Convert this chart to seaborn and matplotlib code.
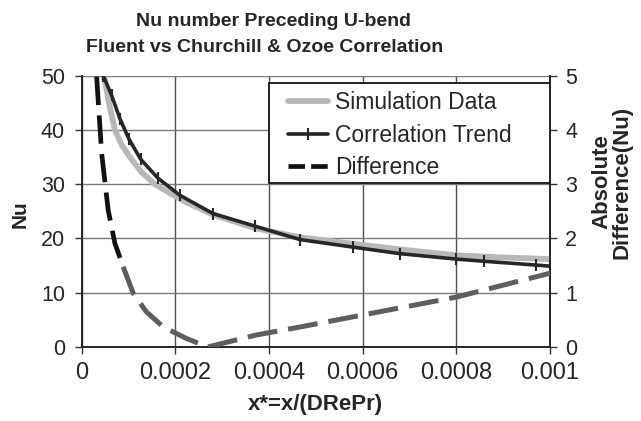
import matplotlib
matplotlib.use("Agg")
import matplotlib.pyplot as plt
import seaborn as sns
import pandas as pd
from matplotlib.lines import Line2D
from matplotlib.patches import Rectangle

sns.set_theme(style="white")
plt.rcParams['font.family'] = ['Liberation Sans', 'DejaVu Sans']

# Simulation data (Fluent)
sim_x = [0.000048, 0.000058, 0.000071, 0.000085, 0.000103, 0.000128, 0.000156, 0.00022,
         0.00028, 0.00037, 0.000467, 0.0006, 0.0007, 0.0008, 0.0009, 0.001]
sim_nu = [50, 45, 40, 37.3, 35, 32.2, 30, 26.8, 24.4, 21.9, 20.2, 18.8, 17.8, 16.9, 16.5, 16.2]

# Churchill & Ozoe correlation trend
cor_x = [0.000046, 0.0000638, 0.0000815, 0.000101, 0.000126, 0.000163, 0.000209, 0.00028,
         0.000369, 0.000466, 0.00058, 0.00068, 0.0008, 0.00086, 0.00097, 0.001]
cor_nu = [50, 46.4, 42.1, 38.3, 34.6, 31.1, 28.0, 24.6, 22.3, 19.8, 18.4, 17.2, 16.2, 15.8, 15.1, 14.9]

# Absolute difference
dif_x = [0.0000319, 0.0000426, 0.0000566, 0.0000709, 0.0000885, 0.00011, 0.000138, 0.000174,
         0.000223, 0.000269, 0.000316, 0.000372, 0.000467, 0.0006, 0.0008, 0.001]
dif_y = [4.98, 3.57, 2.52, 1.91, 1.48, 0.99, 0.65, 0.37, 0.16, 0.0, 0.1, 0.22, 0.37, 0.59, 0.92, 1.36]

xticks = [0, 0.0002, 0.0004, 0.0006, 0.0008, 0.001]
xtick_labels = ["0", "0.0002", "0.0004", "0.0006", "0.0008", "0.001"]
yticks = [0, 10, 20, 30, 40, 50]
y2ticks = [0, 1, 2, 3, 4, 5]
legend_labels = ["Simulation Data", "Correlation Trend", "Difference"]

sim_df = pd.DataFrame({"x": sim_x, "Nu": sim_nu})
cor_df = pd.DataFrame({"x": cor_x, "Nu": cor_nu})
dif_df = pd.DataFrame({"x": dif_x, "d": dif_y})

fig = plt.figure(figsize=(6.41, 4.21), dpi=100)
ax = fig.add_axes([81.7/641, 1-347/421, (550-81.7)/641, (347-75.7)/421])

# grid
for xv in xticks:
    ax.axvline(xv, color="#505050", lw=1.0, zorder=0)
for yv in yticks:
    ax.axhline(yv, color="#7a7a7a", lw=1.0, zorder=0)

sns.lineplot(data=sim_df, x="x", y="Nu", ax=ax, color="#b8b8b8", lw=4.2, zorder=3)
sns.lineplot(data=cor_df, x="x", y="Nu", ax=ax, color="#262626", lw=2.6,
             marker="|", markersize=9, markeredgewidth=1.5, markeredgecolor="#262626", zorder=4)

ax.set_xlim(0, 0.001)
ax.set_ylim(0, 50)
ax.set_xticks(xticks)
ax.set_xticklabels(xtick_labels)
ax.set_yticks(yticks)
ax.tick_params(axis="y", labelsize=15.5, direction="out", length=5, width=1, color="#333333",
               left=True, pad=7)
ax.tick_params(axis="x", labelsize=17, direction="out", length=5, width=1, color="#333333",
               bottom=True, pad=6)
ax.set_xlabel("x*=x/(DRePr)", fontsize=16, fontweight="bold", labelpad=7)
ax.set_ylabel("")
ax.spines["top"].set_visible(False)
for s in ["left", "right", "bottom"]:
    ax.spines[s].set_color("#222222")
    ax.spines[s].set_linewidth(1.2)

ax2 = ax.twinx()
split = 5
sns.lineplot(data=dif_df.iloc[:split], x="x", y="d", ax=ax2, color="#111111", lw=3.4, zorder=5)
sns.lineplot(data=dif_df.iloc[split - 1:], x="x", y="d", ax=ax2, color="#5e5e5e", lw=3.6, zorder=5)
for ln in ax2.lines:
    ln.set_dashes([6, 2.2])
ax2.set_ylim(0, 5)
ax2.set_yticks(y2ticks)
ax2.set_ylabel("")
ax2.tick_params(axis="y", labelsize=15.5, direction="out", length=5, width=1, color="#333333",
                right=True, pad=6)
ax2.spines["top"].set_visible(False)
ax2.spines["right"].set_color("#222222")
ax2.spines["right"].set_linewidth(1.2)
ax2.grid(False)

# legend frame
box = Rectangle((0.40, 0.6045), 0.60, 0.3685, transform=ax2.transAxes, facecolor="white",
                edgecolor="#111111", lw=1.3, zorder=9)
ax2.add_patch(box)
handles = [
    Line2D([], [], color="#b8b8b8", lw=4.2),
    Line2D([], [], color="#262626", lw=2.6, marker="|", markersize=9, markeredgewidth=1.5),
    Line2D([], [], color="#111111", lw=3.4, dashes=[3.5, 1.3]),
]
leg = ax2.legend(handles, legend_labels, loc="center left", bbox_to_anchor=(0.44, 0.781),
                 fontsize=16.5, frameon=False, handlelength=1.75, handletextpad=0.3,
                 borderpad=0, labelspacing=0.42, borderaxespad=0)
leg.set_zorder(10)

fig.text(20/641, 1-214/421, "Nu", rotation=90, fontsize=15, fontweight="bold",
         ha="center", va="center")
fig.text(612/641, 1-182/421, "Absolute\nDifference(Nu)", rotation=90, fontsize=16,
         fontweight="bold", ha="center", va="center", multialignment="center", linespacing=1.0)
fig.text(273/641, 1-21/421, "Nu number Preceding U-bend", fontsize=14, fontweight="bold",
         ha="center", va="center")
fig.text(265/641, 1-47/421, "Fluent vs Churchill & Ozoe Correlation", fontsize=14,
         fontweight="bold", ha="center", va="center")

fig.savefig("out.png", dpi=100)
